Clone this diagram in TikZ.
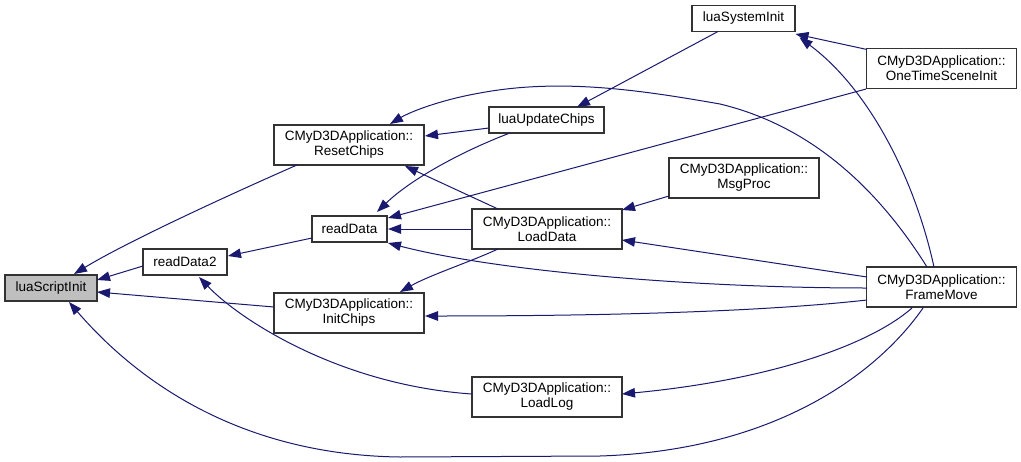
\documentclass[tikz,border=0pt]{standalone}
\usepackage{fontspec}
\setmainfont{Liberation Sans}
\usetikzlibrary{arrows.meta}
\definecolor{edgecol}{HTML}{191970}
\definecolor{boxline}{HTML}{333333}
\definecolor{hilite}{HTML}{BFBFBF}
\tikzset{
  fn/.style={draw=boxline, line width=1.1pt, fill=white, inner sep=0pt, align=center,
    font=\fontsize{13.5}{15}\selectfont, text=black},
  wide/.style={fn, minimum width=150pt, minimum height=40pt},
  edge/.style={draw=edgecol, line width=1pt, -{Triangle[length=13pt,width=9.5pt]}, fill=none},
}
\begin{document}
\begin{tikzpicture}[x=1pt,y=-1pt]
\useasboundingbox[fill=white] (0,0) rectangle (1021,461);
% nodes
\node[fn, fill=hilite, minimum width=92pt, minimum height=26pt] (luaScriptInit) at (51,288) {luaScriptInit};
\node[fn, minimum width=84pt, minimum height=26pt] (readData2) at (185,262) {readData2};
\node[wide] (ResetChips) at (349,145) {CMyD3DApplication::\\ResetChips};
\node[fn, minimum width=75pt, minimum height=26pt] (readData) at (349.5,229) {readData};
\node[fn, minimum width=115pt, minimum height=26pt] (luaUpdateChips) at (546.5,120) {luaUpdateChips};
\node[wide] (LoadData) at (547,229) {CMyD3DApplication::\\LoadData};
\node[wide] (InitChips) at (349,313) {CMyD3DApplication::\\InitChips};
\node[wide] (LoadLog) at (547,397) {CMyD3DApplication::\\LoadLog};
\node[fn, minimum width=103pt, minimum height=26pt] (luaSystemInit) at (743.5,18.5) {luaSystemInit};
\node[wide] (OneTimeSceneInit) at (941.5,68.5) {CMyD3DApplication::\\OneTimeSceneInit};
\node[wide] (MsgProc) at (744,178) {CMyD3DApplication::\\MsgProc};
\node[wide] (FrameMove) at (941.5,287) {CMyD3DApplication::\\FrameMove};

% edges into luaScriptInit
\draw[edge] ([shift={(-52,20)}]ResetChips.center) .. controls (240,190) and (130,240) .. ([shift={(23,-14)}]luaScriptInit.center);
\draw[edge] ([shift={(-42,4)}]readData2.center) -- ([shift={(46,-8)}]luaScriptInit.center);
\draw[edge] ([shift={(-75,-6)}]InitChips.center) -- ([shift={(46,4)}]luaScriptInit.center);
\draw[edge] ([shift={(-18.5,21)}]FrameMove.center) .. controls (880,370) and (780,450) .. (600,456)
  -- (400,457) .. controls (250,455) and (145,390) .. ([shift={(18,14)}]luaScriptInit.center);
% into readData2
\draw[edge] ([shift={(-37.5,9)}]readData.center) -- ([shift={(43,-6)}]readData2.center);
\draw[edge] ([shift={(-75,-3)}]LoadLog.center) .. controls (340,385) and (240,320) .. ([shift={(14,15)}]readData2.center);
% into ResetChips
\draw[edge] ([shift={(-57.5,8)}]luaUpdateChips.center) -- ([shift={(76,-9)}]ResetChips.center);
\draw[edge] ([shift={(-14.5,-20)}]FrameMove.center) .. controls (885,200) and (820,128) .. (720,104)
  .. controls (640,90) and (560,78) .. (480,93) .. controls (440,100) and (410,112) .. ([shift={(41,-21)}]ResetChips.center);
\draw[edge] ([shift={(-49,-20)}]LoadData.center) -- ([shift={(56,21)}]ResetChips.center);
% into readData
\draw[edge] ([shift={(-36.5,13)}]luaUpdateChips.center) .. controls (460,152) and (410,180) .. ([shift={(27.5,-17)}]readData.center);
\draw[edge] (OneTimeSceneInit.south west) -- ([shift={(38.5,-11)}]readData.center);
\draw[edge] (LoadData.west) -- ([shift={(38.5,0)}]readData.center);
\draw[edge] ([shift={(-74.5,1)}]FrameMove.center) .. controls (700,288) and (500,272) .. ([shift={(38.5,14)}]readData.center);
% into luaUpdateChips
\draw[edge] ([shift={(-25.5,13)}]luaSystemInit.center) -- ([shift={(30.5,-13)}]luaUpdateChips.center);
% into luaSystemInit
\draw[edge] ([shift={(-74.5,-19)}]OneTimeSceneInit.center) -- ([shift={(52,15.5)}]luaSystemInit.center);
\draw[edge] ([shift={(-7.5,-20)}]FrameMove.center) .. controls (915,180) and (870,90) .. ([shift={(56,19)}]luaSystemInit.center);
% into LoadData
\draw[edge] ([shift={(-75,18)}]MsgProc.center) -- ([shift={(75,-19)}]LoadData.center);
\draw[edge] ([shift={(-74.5,-10)}]FrameMove.center) -- ([shift={(75,11)}]LoadData.center);
% into InitChips
\draw[edge] ([shift={(-49,20)}]LoadData.center) .. controls (470,262) and (430,275) .. ([shift={(51,-21)}]InitChips.center);
\draw[edge] ([shift={(-74.5,13)}]FrameMove.center) .. controls (760,312) and (600,316) .. ([shift={(76,3)}]InitChips.center);
% into LoadLog
\draw[edge] ([shift={(-29.5,21)}]FrameMove.center) .. controls (870,345) and (770,380) .. ([shift={(75,-3)}]LoadLog.center);
\end{tikzpicture}
\end{document}
